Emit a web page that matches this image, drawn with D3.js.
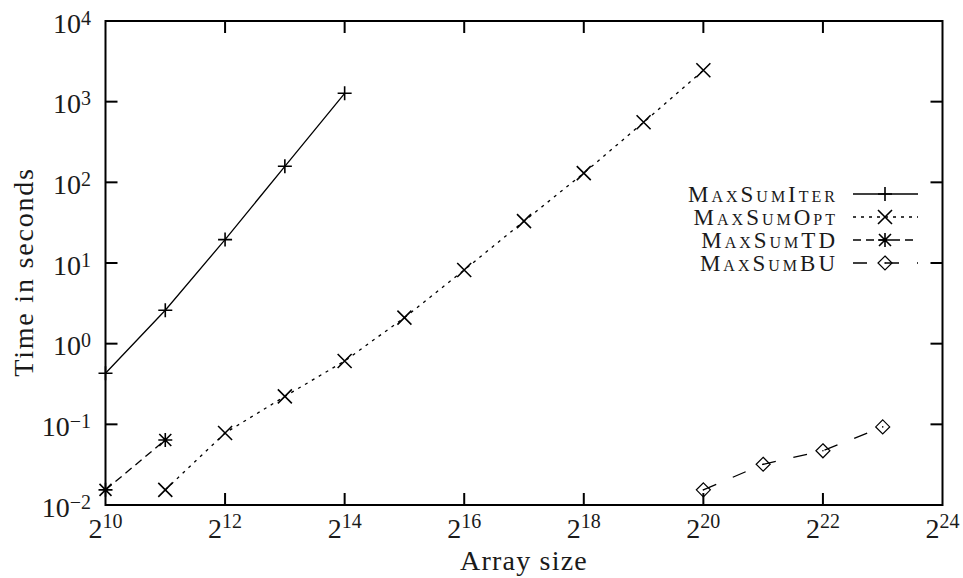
<!DOCTYPE html>
<html>
<head>
<meta charset="utf-8">
<script src="https://cdn.jsdelivr.net/npm/d3@7"></script>
<style>
  body { margin: 0; background: #fff; }
  text { font-family: "Liberation Serif", "DejaVu Serif", serif; fill: #1a1a1a; }
</style>
</head>
<body>
<svg id="chart" width="963" height="578"></svg>
<script>
// exponents of 2 (array size) and time in seconds
const iterX = [10, 11, 12, 13, 14];
const iterY = [0.43, 2.6, 19.5, 158, 1270];

const optX = [11, 12, 13, 14, 15, 16, 17, 18, 19, 20];
const optY = [0.0154, 0.078, 0.222, 0.61, 2.1, 8.2, 33, 130, 555, 2450];

const tdX = [10, 11];
const tdY = [0.0154, 0.064];

const buX = [20, 21, 22, 23];
const buY = [0.0154, 0.032, 0.047, 0.093];

const xTicks = [10, 12, 14, 16, 18, 20, 22, 24];
const yTicks = [-2, -1, 0, 1, 2, 3, 4];

const svg = d3.select('#chart');
const margin = {left: 105.5, right: 20.5, top: 21, bottom: 73};
const width = 963, height = 578;

const x = d3.scaleLinear().domain([10, 24]).range([margin.left, width - margin.right]);
const y = d3.scaleLog().domain([0.01, 10000]).range([height - margin.bottom, margin.top]);

const tickLen = 12;

// ticks (mirrored on all sides, gnuplot style)
const ticks = svg.append('g').attr('stroke', '#000').attr('stroke-width', 2);
xTicks.slice(1, -1).forEach(function(t) {
    ticks.append('line').attr('x1', x(t)).attr('x2', x(t))
        .attr('y1', y.range()[0]).attr('y2', y.range()[0] - tickLen);
    ticks.append('line').attr('x1', x(t)).attr('x2', x(t))
        .attr('y1', y.range()[1]).attr('y2', y.range()[1] + tickLen);
});
yTicks.slice(1, -1).forEach(function(t) {
    const v = Math.pow(10, t);
    ticks.append('line').attr('x1', x.range()[0]).attr('x2', x.range()[0] + tickLen)
        .attr('y1', y(v)).attr('y2', y(v));
    ticks.append('line').attr('x1', x.range()[1]).attr('x2', x.range()[1] - tickLen)
        .attr('y1', y(v)).attr('y2', y(v));
});

// tick labels
xTicks.forEach(function(t) {
    const tx = svg.append('text')
        .attr('x', x(t)).attr('y', 538)
        .attr('text-anchor', 'middle')
        .attr('font-size', 28);
    tx.append('tspan').text('2');
    tx.append('tspan').attr('dy', -10).attr('font-size', 20).text(t);
});
yTicks.forEach(function(t) {
    const v = Math.pow(10, t);
    const ty = svg.append('text')
        .attr('x', 91).attr('y', y(v) + 11.5)
        .attr('text-anchor', 'end')
        .attr('font-size', 28);
    ty.append('tspan').text('10');
    ty.append('tspan').attr('dy', -8).attr('font-size', 20)
        .text(t < 0 ? '\u2212' + Math.abs(t) : t);
});

// axis titles
svg.append('text')
    .attr('x', 524).attr('y', 570)
    .attr('text-anchor', 'middle').attr('font-size', 28)
    .attr('letter-spacing', 1.2)
    .text('Array size');
svg.append('text')
    .attr('transform', 'translate(33,272) rotate(-90)')
    .attr('text-anchor', 'middle').attr('font-size', 28)
    .attr('letter-spacing', 1.8)
    .text('Time in seconds');

// marker symbols
function marker(g, kind, cx, cy) {
    const s = g.append('g').attr('transform', 'translate(' + cx + ',' + cy + ')')
        .attr('stroke', '#000').attr('stroke-width', 1.6).attr('fill', 'none');
    if (kind === 'plus') {
        s.append('path').attr('d', 'M-7,0H7M0,-7V7');
    } else if (kind === 'cross') {
        s.append('path').attr('d', 'M-7,-7L7,7M-7,7L7,-7');
    } else if (kind === 'star') {
        s.append('path').attr('d', 'M-7,0H7M0,-7V7M-6,-6L6,6M-6,6L6,-6');
    } else if (kind === 'diamond') {
        s.append('path').attr('d', 'M0,-7L7,0L0,7L-7,0Z').attr('stroke-width', 1.2);
        s.append('circle').attr('r', 0.8).attr('fill', '#000').attr('stroke', 'none');
    }
}

const series = [
    {name: 'MaxSumIter', xs: iterX, ys: iterY, dash: null, mark: 'plus'},
    {name: 'MaxSumOpt', xs: optX, ys: optY, dash: '3,5', mark: 'cross'},
    {name: 'MaxSumTD', xs: tdX, ys: tdY, dash: '8,5', mark: 'star'},
    {name: 'MaxSumBU', xs: buX, ys: buY, dash: '14,18', mark: 'diamond'}
];

const line = d3.line().x(function(d) { return x(d[0]); }).y(function(d) { return y(d[1]); });

const plot = svg.append('g');
series.forEach(function(s) {
    const pts = s.xs.map(function(v, i) { return [v, s.ys[i]]; });
    plot.append('path').datum(pts)
        .attr('d', line)
        .attr('fill', 'none').attr('stroke', '#000').attr('stroke-width', 1.3)
        .attr('stroke-dasharray', s.dash);
    pts.forEach(function(p) { marker(plot, s.mark, x(p[0]), y(p[1])); });
});

// legend
const legendY = [194, 217, 240, 263];
const legend = svg.append('g');
series.forEach(function(s, i) {
    legend.append('text')
        .attr('x', 838).attr('y', legendY[i] + 8)
        .attr('text-anchor', 'end').attr('font-size', 23)
        .attr('letter-spacing', 3)
        .style('font-variant', 'small-caps')
        .text(s.name);
    legend.append('line')
        .attr('x1', 853).attr('x2', 918)
        .attr('y1', legendY[i]).attr('y2', legendY[i])
        .attr('stroke', '#000').attr('stroke-width', 1.3)
        .attr('stroke-dasharray', s.dash);
    marker(legend, s.mark, 885, legendY[i]);
});

// frame
svg.append('rect')
    .attr('x', x.range()[0]).attr('y', y.range()[1])
    .attr('width', x.range()[1] - x.range()[0])
    .attr('height', y.range()[0] - y.range()[1])
    .attr('fill', 'none').attr('stroke', '#000').attr('stroke-width', 2);
</script>
</body>
</html>
